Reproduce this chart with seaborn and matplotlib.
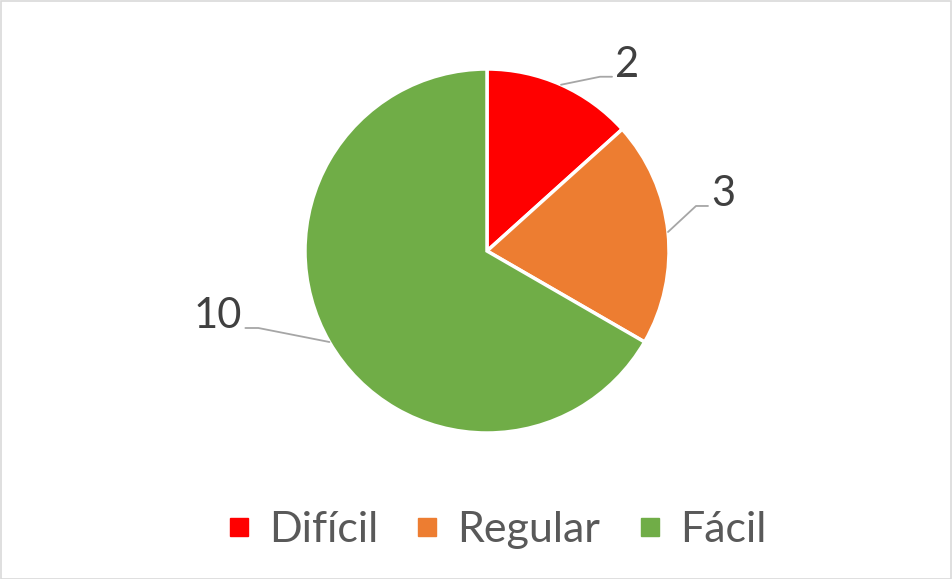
import numpy as np
import matplotlib
matplotlib.use('Agg')
import matplotlib.pyplot as plt
from matplotlib.lines import Line2D
from matplotlib.patches import Rectangle
import seaborn as sns

categories = ["Difícil", "Regular", "Fácil"]
values = [2, 3, 10]
colors = ["#FF0000", "#ED7D31", "#70AD47"]

sns.set_theme(style="white")
plt.rcParams['font.family'] = ['Lato', 'DejaVu Sans']

W, H = 952, 579
fig = plt.figure(figsize=(W / 100, H / 100), dpi=100)
ax = fig.add_axes([0, 0, 1, 1])

# pie geometry in pixel units (y measured from the bottom)
cx, cy, r = 487, H - 251, 182
wedges, _ = ax.pie(values, colors=colors, startangle=90, counterclock=False,
                   center=(cx, cy), radius=r,
                   wedgeprops=dict(edgecolor="white", linewidth=2.5))
ax.set_xlim(0, W)
ax.set_ylim(0, H)
ax.set_aspect('equal')
ax.axis('off')

# data labels with leader lines: (elbow dx, dy, horizontal length)
leaders = [(39, 8, 12), (28, 26, 12), (-71, 14, -13)]
total = sum(values)
start = 90.0
for v, (ex, ey, hl) in zip(values, leaders):
    sweep = 360.0 * v / total
    mid = np.deg2rad(start - sweep / 2)
    start -= sweep
    x0, y0 = cx + r * np.cos(mid), cy + r * np.sin(mid)
    x1, y1 = x0 + ex, y0 + ey
    x2 = x1 + hl
    ax.plot([x0, x1, x2], [y0, y1, y1], color="#A6A6A6", lw=1.3)
    ha = 'left' if hl > 0 else 'right'
    ax.text(x2 + (3 if hl > 0 else -3), y1 + 12, str(v), ha=ha, va='center',
            fontsize=30, color="#404040")

handles = [Line2D([], [], marker='s', linestyle='none', markersize=13.5,
                  markerfacecolor=c, markeredgecolor=c) for c in colors]
fig.legend(handles, categories, loc='center', bbox_to_anchor=(495 / W, 1 - 530 / H),
           ncol=3, frameon=False, fontsize=31, labelcolor="#595959",
           handletextpad=0.35, columnspacing=0.8, handlelength=0.7)

fig.patches.append(Rectangle((0.5 / W, 0.5 / H), 1 - 1.5 / W, 1 - 1.5 / H,
                             transform=fig.transFigure, fill=False,
                             edgecolor="#D9D9D9", linewidth=1.2))

fig.savefig("out.png", dpi=100)
